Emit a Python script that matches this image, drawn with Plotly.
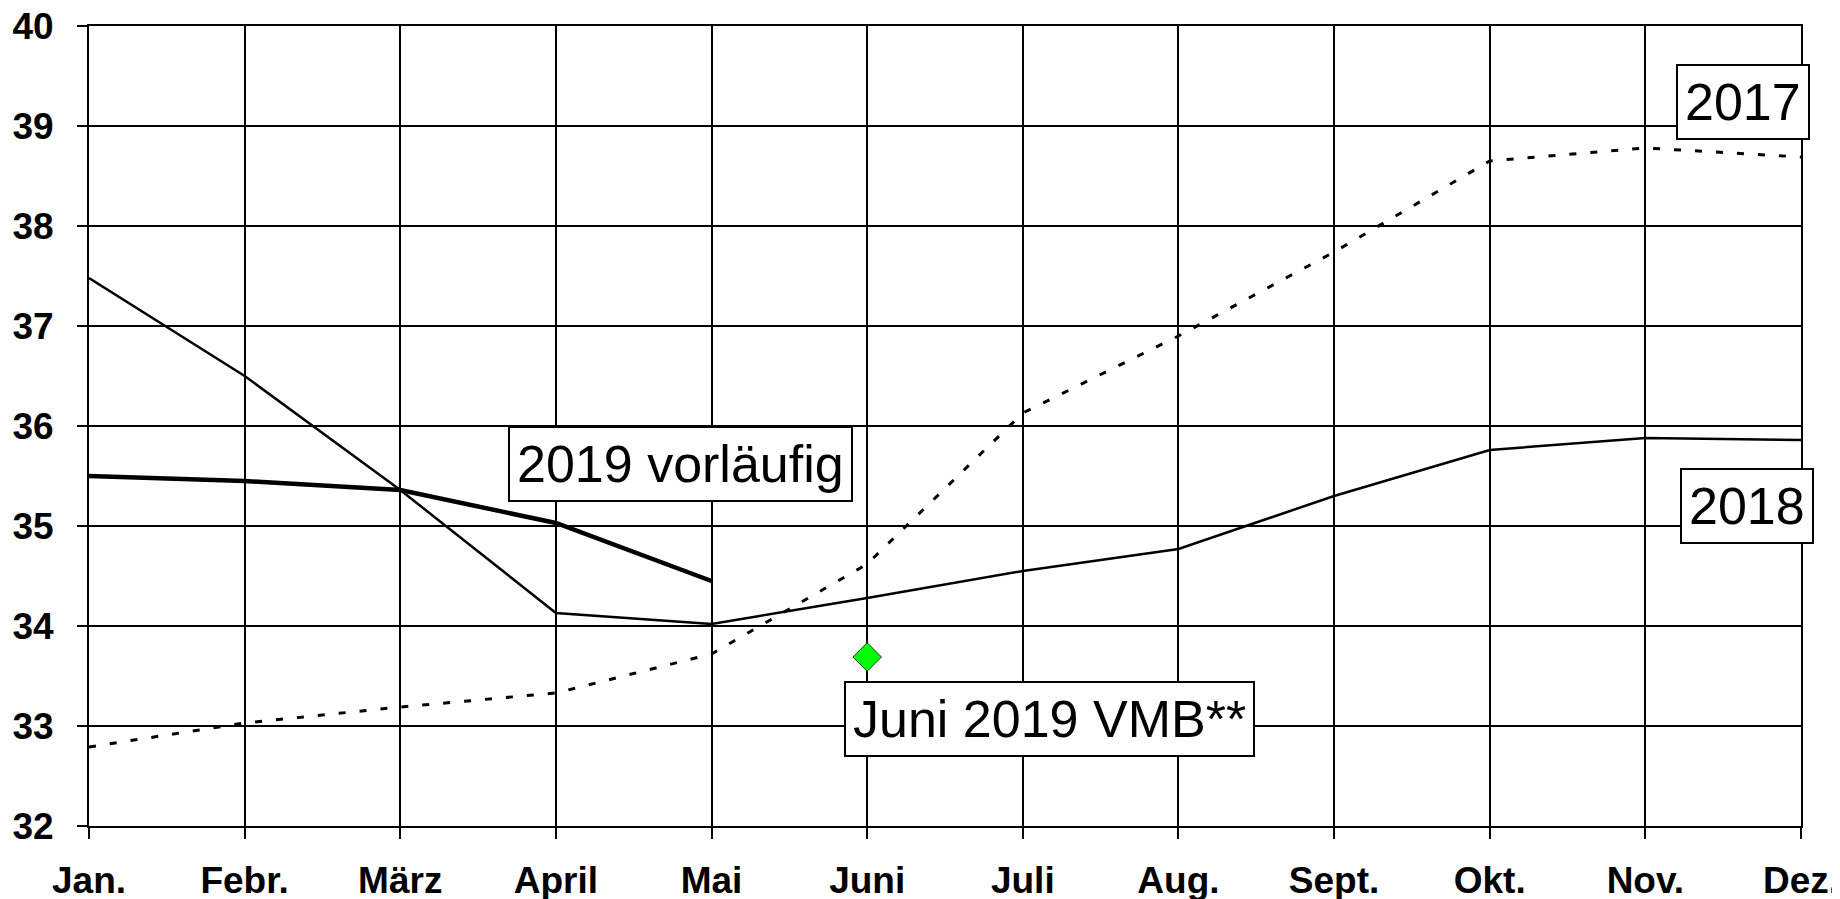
import plotly.graph_objects as go

months = ["Jan.", "Febr.", "März", "April", "Mai", "Juni", "Juli", "Aug.", "Sept.", "Okt.", "Nov.", "Dez."]

values_2017 = [32.79, 33.03, 33.19, 33.33, 33.72, 34.62, 36.13, 36.9, 37.74, 38.65, 38.78, 38.69]
values_2018 = [37.48, 36.5, 35.36, 34.13, 34.02, 34.28, 34.55, 34.77, 35.3, 35.76, 35.88, 35.86]
values_2019 = [35.5, 35.45, 35.36, 35.03, 34.45]

vmb_month = ["Juni"]
vmb_value = [33.69]

y_ticks = [32, 33, 34, 35, 36, 37, 38, 39, 40]

TICK_FONT = dict(family="Liberation Sans, Arial", size=37, color="black", weight="bold")
BOX_FONT = dict(family="Liberation Sans, Arial", size=52, color="black")

fig = go.Figure()
fig.add_trace(go.Scatter(x=months, y=values_2017, mode="lines",
                         line=dict(color="black", width=3, dash="7px,14px"), name="2017"))
fig.add_trace(go.Scatter(x=months, y=values_2018, mode="lines",
                         line=dict(color="black", width=2.5), name="2018"))
fig.add_trace(go.Scatter(x=months[:len(values_2019)], y=values_2019, mode="lines",
                         line=dict(color="black", width=4.5), name="2019 vorläufig"))
fig.add_trace(go.Scatter(x=vmb_month, y=vmb_value, mode="markers",
                         marker=dict(symbol="diamond", size=22, color="#00FF00",
                                     line=dict(color="#333333", width=1)),
                         name="Juni 2019 VMB**"))


def label_box(text, x, y):
    fig.add_annotation(text=text, x=x, y=y, xref="x", yref="y", showarrow=False,
                       font=BOX_FONT, bgcolor="white", bordercolor="black",
                       borderwidth=2, borderpad=7)


label_box("2019 vorläufig", 3.80, 35.62)
label_box("Juni 2019 VMB**", 6.17, 33.07)
label_box("2017", 10.63, 39.24)
label_box("2018", 10.655, 35.2)

# page body adds 8px, so the figure is 8px smaller and margins shifted
fig.update_layout(
    width=1832,
    height=891,
    margin=dict(l=81, r=39, t=18, b=73),
    paper_bgcolor="white",
    plot_bgcolor="white",
    showlegend=False,
)
fig.update_xaxes(
    type="category",
    range=[0, 11],
    showgrid=True, gridcolor="black", gridwidth=2,
    showline=True, linecolor="black", linewidth=2, mirror=True,
    ticks="outside", ticklen=11, tickcolor="black", tickwidth=2,
    tickfont=TICK_FONT,
    ticklabelstandoff=10,
    ticklabeloverflow="allow",
    automargin=False,
)
fig.update_yaxes(
    range=[32, 40],
    tickvals=y_ticks,
    showgrid=True, gridcolor="black", gridwidth=2,
    showline=True, linecolor="black", linewidth=2, mirror=True,
    ticks="outside", ticklen=10, tickcolor="black", tickwidth=2,
    tickfont=TICK_FONT,
    ticklabelstandoff=16,
    ticklabeloverflow="allow",
    zeroline=False,
    automargin=False,
)

fig.write_html("out.html")
